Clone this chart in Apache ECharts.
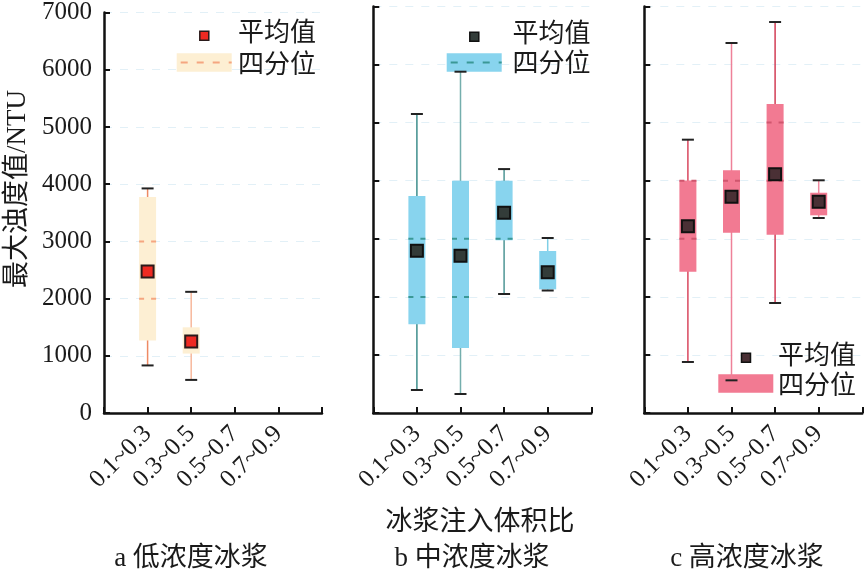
<!DOCTYPE html>
<html>
<head>
<meta charset="utf-8">
<script src="https://cdn.jsdelivr.net/npm/echarts@6/dist/echarts.min.js"></script>
<style>
html,body{margin:0;padding:0;background:#fff;}
#chart{width:865px;height:571px;}
</style>
</head>
<body>
<div id="chart"></div>
<script>
// ---------- data ----------
const categories = ['0.1~0.3', '0.3~0.5', '0.5~0.7', '0.7~0.9'];
const yTickValues = [0, 1000, 2000, 3000, 4000, 5000, 6000, 7000];
const panelTitles = ['a 低浓度冰浆', 'b 中浓度冰浆', 'c 高浓度冰浆'];

// panel a: low concentration
const lowMin  = [833, 580];
const lowQ1   = [1270, 1040];
const lowQ3   = [3776, 1499];
const lowMax  = [3926, 2119];
const lowMean = [2475, 1251];

// panel b: medium concentration
const midMin  = [398, 329, 2050, 2110];
const midQ1   = [1528, 1120, 2974, 2130];
const midQ3   = [3737, 4000, 4000, 2790];
const midMax  = [5148, 5876, 4200, 3014];
const midMean = [2795, 2709, 3449, 2423];

// panel c: high concentration
const highMin  = [880, 564, 1895, 3358];
const highQ1   = [2434, 3105, 3071, 3404];
const highQ3   = [4005, 4179, 5320, 3793];
const highMax  = [4706, 6370, 6731, 4007];
const highMean = [3215, 3725, 4110, 3639];

// ---------- styles ----------
const SERIF = 'Liberation Serif, Tinos, Times New Roman, serif';
const CJK = 'Liberation Serif, Noto Sans CJK SC, sans-serif';
const panels = [
  {min: lowMin, q1: lowQ1, q3: lowQ3, max: lowMax, mean: lowMean,
   box: '#FDEFD3', whisker: ['#EE8A64', '#F7B89C'], dash: '#F5A680', meanFill: '#EE2A22', meanStroke: '#2a1a1a'},
  {min: midMin, q1: midQ1, q3: midQ3, max: midMax, mean: midMean,
   box: '#88D4EE', whisker: ['#3E8E8C', '#74AEAD', '#4E9695', '#7FCFE6'], dash: '#3A9896', meanFill: '#333C39', meanStroke: '#111'},
  {min: highMin, q1: highQ1, q3: highQ3, max: highMax, mean: highMean,
   box: '#F27A92', whisker: ['#D9475F', '#EE8199', '#D23D55', '#F08AA0'], dash: '#D0566E', meanFill: '#4A3035', meanStroke: '#111'}
];
const grids = [
  {left: 104, top: 6.4, width: 218, height: 406.7},
  {left: 373.3, top: 6.4, width: 218, height: 406.7},
  {left: 644.3, top: 6.4, width: 218, height: 406.7}
];

function makeRender(p) {
  return function (params, api) {
    const xv = api.value(0);
    const vMin = api.value(1), vQ1 = api.value(2), vQ3 = api.value(3), vMax = api.value(4), vMean = api.value(5);
    const pMin = api.coord([xv, vMin]);
    const pQ1 = api.coord([xv, vQ1]);
    const pQ3 = api.coord([xv, vQ3]);
    const pMax = api.coord([xv, vMax]);
    const pMean = api.coord([xv, vMean]);
    const cx = pMin[0];
    const bw = 17, cw = 12, ms = 12;
    const wc = p.whisker[params.dataIndex % p.whisker.length];
    const children = [];
    children.push({type: 'line', shape: {x1: cx, y1: pMin[1], x2: cx, y2: pMax[1]},
      style: {stroke: wc, lineWidth: 1.5}});
    children.push({type: 'rect', shape: {x: cx - bw / 2, y: pQ3[1], width: bw, height: pQ1[1] - pQ3[1]},
      style: {fill: p.box, stroke: null}});
    for (let k = Math.ceil(vQ1 / 1000); k * 1000 < vQ3; k++) {
      if (k * 1000 <= vQ1) continue;
      const py = api.coord([xv, k * 1000])[1];
      children.push({type: 'line', shape: {x1: cx - bw / 2, y1: py, x2: cx + bw / 2, y2: py},
        style: {stroke: p.dash, lineWidth: 2, lineDash: [5, 7]}});
    }
    children.push({type: 'line', shape: {x1: cx - cw / 2, y1: pMax[1], x2: cx + cw / 2, y2: pMax[1]},
      style: {stroke: '#222', lineWidth: 2}});
    children.push({type: 'line', shape: {x1: cx - cw / 2, y1: pMin[1], x2: cx + cw / 2, y2: pMin[1]},
      style: {stroke: '#222', lineWidth: 2}});
    children.push({type: 'rect', shape: {x: cx - ms / 2, y: pMean[1] - ms / 2, width: ms, height: ms},
      style: {fill: p.meanFill, stroke: p.meanStroke, lineWidth: 2}});
    return {type: 'group', children: children};
  };
}

const xAxes = grids.map((g, i) => ({
  type: 'value', gridIndex: i, min: 0, max: 5, interval: 1,
  axisLine: {show: true, onZero: false, lineStyle: {color: '#111', width: 2.5}},
  axisTick: {show: true, inside: true, length: 6, lineStyle: {color: '#111', width: 2}},
  splitLine: {show: false},
  axisLabel: {
    rotate: 45, margin: 17, fontFamily: SERIF, fontSize: 25, color: '#1a1a1a',
    formatter: v => categories[v - 1] || ''
  }
}));
const yAxes = grids.map((g, i) => ({
  type: 'value', gridIndex: i, min: yTickValues[0], max: yTickValues[yTickValues.length - 1], interval: 1000,
  axisLine: {show: true, onZero: false, lineStyle: {color: '#111', width: 2.5}},
  axisTick: {show: true, inside: true, length: 6, lineStyle: {color: '#111', width: 2}},
  splitLine: {show: true, lineStyle: {color: '#E2F0F7', width: 1, type: [8, 8]}},
  axisLabel: {show: i === 0, margin: 12, fontFamily: SERIF, fontSize: 25, color: '#1a1a1a',
    formatter: v => (yTickValues.indexOf(v) >= 0 ? String(v) : '')}
}));

const series = panels.map((p, i) => ({
  type: 'custom', xAxisIndex: i, yAxisIndex: i, z: 10,
  renderItem: makeRender(p),
  encode: {x: 0, y: [1, 2, 3, 4, 5]},
  data: p.min.map((m, j) => [j + 1, p.min[j], p.q1[j], p.q3[j], p.max[j], p.mean[j]])
}));

function txt(x, y, t, size, align, rot) {
  const o = {type: 'text', z: 1, x: x, y: y,
    style: {text: t, fontSize: size, fontFamily: CJK, fill: '#1a1a1a', align: align, verticalAlign: 'middle'}};
  if (rot) o.rotation = rot;
  return o;
}

// legends (graphic)
const legendSpec = [
  {rect: [176.7, 53.3, 55, 18.4], marker: [204.3, 35.7], textX: 238, textY: [34.5, 66], dash: true},
  {rect: [446.7, 53.3, 55, 18.4], marker: [474.3, 36.7], textX: 512.5, textY: [35, 65], dash: true},
  {rect: [718.3, 374.3, 55, 18.4], marker: [746, 357.7], textX: 778, textY: [356.7, 386.7], dash: false}
];
const graphic = [];
legendSpec.forEach((L, i) => {
  const p = panels[i];
  graphic.push({type: 'rect', z: 1, shape: {x: L.rect[0], y: L.rect[1], width: L.rect[2], height: L.rect[3]},
    style: {fill: p.box}});
  if (L.dash) {
    const ly = L.rect[1] + L.rect[3] / 2;
    graphic.push({type: 'line', z: 1, shape: {x1: L.rect[0] + 4, y1: ly, x2: L.rect[0] + L.rect[2], y2: ly},
      style: {stroke: p.dash, lineWidth: 2, lineDash: [7, 9]}});
  }
  graphic.push({type: 'rect', z: 1, shape: {x: L.marker[0] - 4.5, y: L.marker[1] - 4.5, width: 9, height: 9},
    style: {fill: p.meanFill, stroke: p.meanStroke, lineWidth: 1.5}});
  graphic.push(txt(L.textX, L.textY[0], '平均值', 26, 'left'));
  graphic.push(txt(L.textX, L.textY[1], '四分位', 26, 'left'));
});
// axis titles and panel titles
graphic.push(txt(18, 189, '最大浊度值/NTU', 27, 'center', Math.PI / 2));
graphic.push(txt(480, 523, '冰浆注入体积比', 27, 'center'));
[191, 472, 747].forEach((cx, i) => graphic.push(txt(cx, 559, panelTitles[i], 27, 'center')));

const chart = echarts.init(document.getElementById('chart'), null, {renderer: 'canvas'});
chart.setOption({
  animation: false,
  backgroundColor: '#ffffff',
  grid: grids,
  xAxis: xAxes,
  yAxis: yAxes,
  series: series,
  graphic: graphic
});
</script>
</body>
</html>
